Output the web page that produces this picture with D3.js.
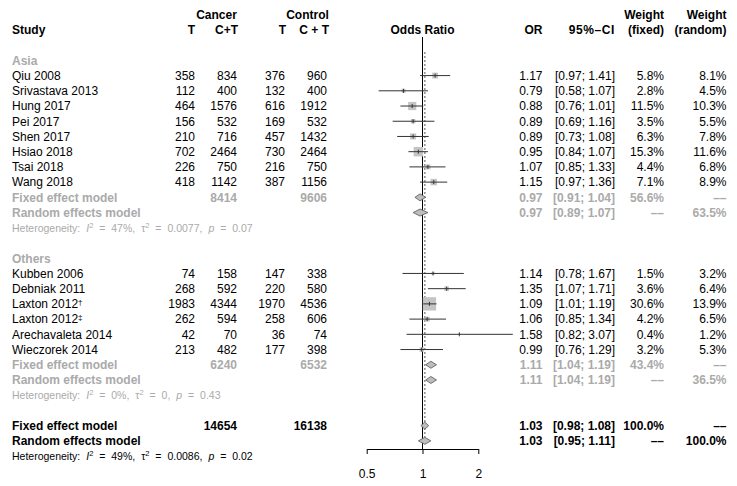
<!DOCTYPE html>
<html>
<head>
<meta charset="utf-8">
<script src="https://cdn.jsdelivr.net/npm/d3@7"></script>
<style>
  body { margin: 0; background: #fff; }
  svg text { font-family: "Liberation Sans", Arial, Helvetica, sans-serif; font-size: 12px; }
</style>
</head>
<body>
<div id="chart"></div>
<script>
// study level data
var studies   = ["Qiu 2008", "Srivastava 2013", "Hung 2017", "Pei 2017", "Shen 2017", "Hsiao 2018", "Tsai 2018", "Wang 2018",
                 "Kubben 2006", "Debniak 2011", "Laxton 2012", "Laxton 2012", "Arechavaleta 2014", "Wieczorek 2014"];
var marks     = ["", "", "", "", "", "", "", "", "", "", "\u2020", "\u2021", "", ""];
var groups    = ["Asia", "Asia", "Asia", "Asia", "Asia", "Asia", "Asia", "Asia",
                 "Others", "Others", "Others", "Others", "Others", "Others"];
var cancerT   = [358, 112, 464, 156, 210, 702, 226, 418, 74, 268, 1983, 262, 42, 213];
var cancerN   = [834, 400, 1576, 532, 716, 2464, 750, 1142, 158, 592, 4344, 594, 70, 482];
var controlT  = [376, 132, 616, 169, 457, 730, 216, 387, 147, 220, 1970, 258, 36, 177];
var controlN  = [960, 400, 1912, 532, 1432, 2464, 750, 1156, 338, 580, 4536, 606, 74, 398];
var orVal     = [1.17, 0.79, 0.88, 0.89, 0.89, 0.95, 1.07, 1.15, 1.14, 1.35, 1.09, 1.06, 1.58, 0.99];
var ciLow     = [0.97, 0.58, 0.76, 0.69, 0.73, 0.84, 0.85, 0.97, 0.78, 1.07, 1.01, 0.85, 0.82, 0.76];
var ciHigh    = [1.41, 1.07, 1.01, 1.16, 1.08, 1.07, 1.33, 1.36, 1.67, 1.71, 1.19, 1.34, 3.07, 1.29];
var wFixed    = [5.8, 2.8, 11.5, 3.5, 6.3, 15.3, 4.4, 7.1, 1.5, 3.6, 30.6, 4.2, 0.4, 3.2];
var wRandom   = [8.1, 4.5, 10.3, 5.5, 7.8, 11.6, 6.8, 8.9, 3.2, 6.4, 13.9, 6.5, 1.2, 5.3];

// subgroup summaries
var subgroups     = ["Asia", "Others"];
var subCancerN    = [8414, 6240];
var subControlN   = [9606, 6532];
var subFixed      = [[0.97, 0.91, 1.04], [1.11, 1.04, 1.19]];
var subRandom     = [[0.97, 0.89, 1.07], [1.11, 1.04, 1.19]];
var subWFixed     = [56.6, 43.4];
var subWRandom    = [63.5, 36.5];
var subHet        = [["47%", "0.0077", "0.07"], ["0%", "0", "0.43"]];

// overall summaries
var totCancerN  = 14654;
var totControlN = 16138;
var totFixed    = [1.03, 0.98, 1.08];
var totRandom   = [1.03, 0.95, 1.11];
var totHet      = ["49%", "0.0086", "0.02"];

var axisTicks = [0.5, 1, 2];

var W = 737, H = 486;
var grey = "#aaaaaa";
var dash = "\u2013\u2013";

var svg = d3.select("#chart").append("svg")
  .attr("width", W).attr("height", H);

var x = d3.scaleLog().domain([0.5, 2]).range([366.7, 478.3]);
function rowY(r) { return 14.7 + r * 15.22; }

var col = { study: 12, cT: 195, cN: 237, kT: 285, kN: 327, or: 542.5, ci: 615, wf: 664, wr: 726.5 };

function txt(xp, r, s, opt) {
  opt = opt || {};
  return svg.append("text")
    .attr("x", xp).attr("y", rowY(r)).attr("dy", "0.36em")
    .attr("text-anchor", opt.anchor || "end")
    .attr("font-weight", opt.bold ? "bold" : null)
    .attr("fill", opt.color || "#000")
    .text(s);
}

// headers
txt(216.5, 0, "Cancer", { anchor: "middle", bold: true });
txt(307.5, 0, "Control", { anchor: "middle", bold: true });
txt(col.wf, 0, "Weight", { bold: true });
txt(col.wr, 0, "Weight", { bold: true });
txt(col.study, 1, "Study", { anchor: "start", bold: true });
txt(col.cT, 1, "T", { bold: true });
txt(238, 1, "C+T", { bold: true });
txt(286, 1, "T", { bold: true });
txt(329, 1, "C + T", { bold: true });
txt(x(1), 1, "Odds Ratio", { anchor: "middle", bold: true });
txt(col.or, 1, "OR", { bold: true });
txt(col.ci, 1, "95%\u2013CI", { bold: true }).attr("letter-spacing", "0.6");
txt(col.wf, 1, "(fixed)", { bold: true });
txt(col.wr, 1, "(random)", { bold: true });

// reference lines
svg.append("line")
  .attr("x1", x(1)).attr("x2", x(1))
  .attr("y1", 37).attr("y2", 449)
  .attr("stroke", "#000").attr("stroke-width", 1);
svg.append("line")
  .attr("x1", x(totRandom[0])).attr("x2", x(totRandom[0]))
  .attr("y1", 52).attr("y2", 437)
  .attr("stroke", "#555").attr("stroke-width", 1)
  .attr("stroke-dasharray", "2,2");

function fmt(v) { return d3.format(".2f")(v); }
function ciText(lo, hi) { return "[" + fmt(lo) + "; " + fmt(hi) + "]"; }
function pct(v) { return d3.format(".1f")(v) + "%"; }

function hetLine(r, h, color) {
  var t = svg.append("text")
    .attr("x", col.study).attr("y", rowY(r)).attr("dy", "0.36em")
    .attr("fill", color).style("font-size", "10.5px")
    .attr("word-spacing", 3);
  t.append("tspan").text("Heterogeneity: ");
  t.append("tspan").attr("font-style", "italic").text("I");
  t.append("tspan").attr("dy", "-4").style("font-size", "7.5px").text("2");
  t.append("tspan").attr("dy", "4").text(" = " + h[0] + ", \u03c4");
  t.append("tspan").attr("dy", "-4").style("font-size", "7.5px").text("2");
  t.append("tspan").attr("dy", "4").text(" = " + h[1] + ", ");
  t.append("tspan").attr("font-style", "italic").text("p");
  t.append("tspan").text(" = " + h[2]);
}

function diamond(r, est, halfH) {
  var y = rowY(r);
  var pts = [[x(est[1]), y], [x(est[0]), y - halfH], [x(est[2]), y], [x(est[0]), y + halfH]];
  svg.append("path")
    .attr("d", d3.line()(pts) + "Z")
    .attr("fill", "#bdbdbd").attr("stroke", "#555").attr("stroke-width", 0.8);
}

var sq = d3.scaleSqrt().domain([0, 30.6]).range([0, 13.3]);

var rowIdx = 3;
subgroups.forEach(function(g, gi) {
  txt(col.study, rowIdx, g, { anchor: "start", bold: true, color: grey });
  rowIdx++;
  studies.forEach(function(s, i) {
    if (groups[i] !== g) return;
    var r = rowIdx;
    var lab = txt(col.study, r, s, { anchor: "start" });
    if (marks[i]) lab.append("tspan").attr("dy", "-3").style("font-size", "8px").text(marks[i]);
    txt(col.cT, r, cancerT[i]);
    txt(col.cN, r, cancerN[i]);
    txt(col.kT, r, controlT[i]);
    txt(col.kN, r, controlN[i]);
    txt(col.or, r, fmt(orVal[i]));
    txt(col.ci, r, ciText(ciLow[i], ciHigh[i]));
    txt(col.wf, r, pct(wFixed[i]));
    txt(col.wr, r, pct(wRandom[i]));

    var y = rowY(r), s2 = sq(wFixed[i]);
    svg.append("rect")
      .attr("x", x(orVal[i]) - s2 / 2).attr("y", y - s2 / 2)
      .attr("width", s2).attr("height", s2)
      .attr("fill", "#c4c4c4");
    svg.append("line")
      .attr("x1", x(ciLow[i])).attr("x2", x(ciHigh[i]))
      .attr("y1", y).attr("y2", y)
      .attr("stroke", "#333").attr("stroke-width", 1);
    svg.append("line")
      .attr("x1", x(orVal[i])).attr("x2", x(orVal[i]))
      .attr("y1", y - 2).attr("y2", y + 2)
      .attr("stroke", "#333").attr("stroke-width", 1);
    rowIdx++;
  });
  // fixed effect model of the subgroup
  txt(col.study, rowIdx, "Fixed effect model", { anchor: "start", bold: true, color: grey });
  txt(col.cN, rowIdx, subCancerN[gi], { bold: true, color: grey });
  txt(col.kN, rowIdx, subControlN[gi], { bold: true, color: grey });
  txt(col.or, rowIdx, fmt(subFixed[gi][0]), { bold: true, color: grey });
  txt(col.ci, rowIdx, ciText(subFixed[gi][1], subFixed[gi][2]), { bold: true, color: grey });
  txt(col.wf, rowIdx, pct(subWFixed[gi]), { bold: true, color: grey });
  txt(col.wr, rowIdx, dash, { bold: true, color: grey });
  diamond(rowIdx, subFixed[gi], 3.5);
  rowIdx++;
  txt(col.study, rowIdx, "Random effects model", { anchor: "start", bold: true, color: grey });
  txt(col.or, rowIdx, fmt(subRandom[gi][0]), { bold: true, color: grey });
  txt(col.ci, rowIdx, ciText(subRandom[gi][1], subRandom[gi][2]), { bold: true, color: grey });
  txt(col.wf, rowIdx, dash, { bold: true, color: grey });
  txt(col.wr, rowIdx, pct(subWRandom[gi]), { bold: true, color: grey });
  diamond(rowIdx, subRandom[gi], 3.5);
  rowIdx++;
  hetLine(rowIdx, subHet[gi], grey);
  rowIdx += 2;
});

// overall
txt(col.study, rowIdx, "Fixed effect model", { anchor: "start", bold: true });
txt(col.cN, rowIdx, totCancerN, { bold: true });
txt(col.kN, rowIdx, totControlN, { bold: true });
txt(col.or, rowIdx, fmt(totFixed[0]), { bold: true });
txt(col.ci, rowIdx, ciText(totFixed[1], totFixed[2]), { bold: true });
txt(col.wf, rowIdx, "100.0%", { bold: true });
txt(col.wr, rowIdx, dash, { bold: true });
diamond(rowIdx, totFixed, 3.5);
rowIdx++;
txt(col.study, rowIdx, "Random effects model", { anchor: "start", bold: true });
txt(col.or, rowIdx, fmt(totRandom[0]), { bold: true });
txt(col.ci, rowIdx, ciText(totRandom[1], totRandom[2]), { bold: true });
txt(col.wf, rowIdx, dash, { bold: true });
txt(col.wr, rowIdx, "100.0%", { bold: true });
diamond(rowIdx, totRandom, 3.5);
rowIdx++;
hetLine(rowIdx, totHet, "#000");

// axis
var axis = d3.axisBottom(x)
  .tickValues(axisTicks)
  .tickFormat(d3.format("~g"))
  .tickSize(5).tickSizeOuter(0).tickPadding(15);
var ag = svg.append("g").attr("transform", "translate(0,449)").call(axis);
ag.selectAll("text").attr("font-size", null).attr("font-family", null).attr("fill", "#000");
ag.selectAll("line, path").attr("stroke", "#000");
</script>
</body>
</html>
